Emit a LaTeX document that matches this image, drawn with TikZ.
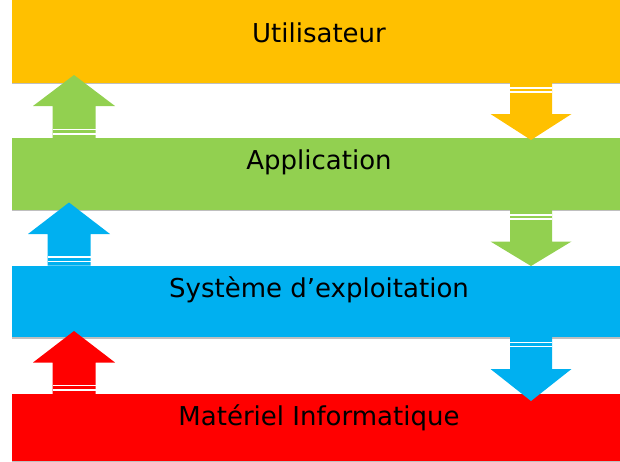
\documentclass[tikz,border=0pt]{standalone}
\usepackage{fontspec}
\setmainfont{DejaVu Sans}
\usetikzlibrary{shadows}

\definecolor{orangebar}{HTML}{FFC000}
\definecolor{greenbar}{HTML}{92D050}
\definecolor{bluebar}{HTML}{00B0F0}
\definecolor{redbar}{HTML}{FF0000}

\tikzset{
  bar/.style={rectangle, inner sep=0pt, minimum width=608pt,
    drop shadow={shadow xshift=0pt, shadow yshift=-1.5pt, opacity=0.25, fill=black}},
  bartext/.style={anchor=base, inner sep=0pt, font=\fontsize{26}{30}\selectfont}
}

\begin{document}
\begin{tikzpicture}[x=1pt, y=-1pt]
\def\barx{316}
\def\textx{319}

% arrow up: colour, centre x, tip, head base, bottom
\def\uparr#1#2#3#4#5{%
  \fill[#1] (#2,#3) -- (#2+41,#4) -- (#2+21.5,#4) -- (#2+21.5,#5)
    -- (#2-21.5,#5) -- (#2-21.5,#4) -- (#2-41,#4) -- cycle;
  \fill[white] (#2-21.5,#5-9.5) rectangle (#2+21.5,#5-8);
  \fill[white] (#2-21.5,#5-5) rectangle (#2+21.5,#5-3.5);
}
% arrow down: colour, centre x, top, head base, tip
\def\downarr#1#2#3#4#5{%
  \fill[#1] (#2-21,#3) -- (#2+21,#3) -- (#2+21,#4) -- (#2+40.5,#4)
    -- (#2,#5) -- (#2-40.5,#4) -- (#2-21,#4) -- cycle;
  \fill[white] (#2-21,#3+4.5) rectangle (#2+21,#3+6);
  \fill[white] (#2-21,#3+8.5) rectangle (#2+21,#3+10);
}

\useasboundingbox (0,0) rectangle (620,461);

% the four layers
\node[bar, fill=orangebar, minimum height=82.5pt] (user) at (\barx, 41.25) {};
\node[bar, fill=greenbar, minimum height=71.5pt] (appli) at (\barx, 173.75) {};
\node[bar, fill=bluebar, minimum height=71.5pt] (os) at (\barx, 301.25) {};
\node[bar, fill=redbar, minimum height=67pt] (hw) at (\barx, 427.5) {};

\node[bartext] (usertext) at (\textx, 42) {Utilisateur};
\node[bartext] (applitext) at (\textx, 169.5) {Application};
\node[bartext] (ostext) at (\textx, 297.5) {Système d’exploitation};
\node[bartext] (hwtext) at (\textx, 425) {Matériel Informatique};

% arrows going up
\uparr{greenbar}{74}{75}{106}{138}
\uparr{bluebar}{69}{202.5}{234}{265.5}
\uparr{redbar}{74}{331}{362.5}{394}

% arrows going down
\downarr{orangebar}{531}{82.5}{114}{140}
\downarr{greenbar}{531}{209.5}{241.5}{266}
\downarr{bluebar}{531}{337}{369}{401}
\end{tikzpicture}
\end{document}
